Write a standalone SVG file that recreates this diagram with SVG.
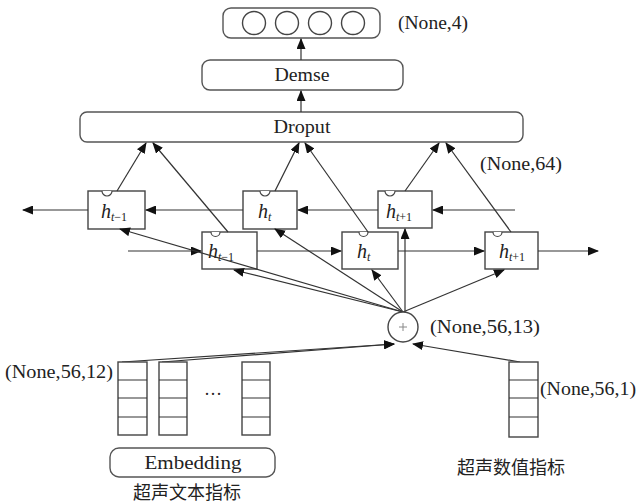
<svg xmlns="http://www.w3.org/2000/svg" width="639" height="503" viewBox="0 0 639 503">
<style>
.box{fill:#fff;stroke:#444;stroke-width:1.4}
.rbox{fill:#fff;stroke:#555;stroke-width:1.4}
.ln{stroke:#333;stroke-width:1.2;fill:none}
.cup{fill:#fff;stroke:#444;stroke-width:1.2}
.t{font-family:"Liberation Serif",serif;font-size:18px;fill:#222}
.h{font-family:"Liberation Serif",serif;font-size:20px;font-style:italic;fill:#222}
.sub{font-size:12px}
.cjk{font-family:"Noto Sans CJK SC",sans-serif;font-size:18px;fill:#222}
</style>
<defs>
<marker id="arr" markerUnits="userSpaceOnUse" markerWidth="11" markerHeight="9" refX="10" refY="4.5" orient="auto">
<path d="M0,0 L11,4.5 L0,9 z" fill="#111"/>
</marker>
</defs>
<rect width="639" height="503" fill="#fff"/>

<g id="output">
<rect class="rbox" x="223" y="8" width="157" height="30" rx="8"/>
<circle class="box" cx="254" cy="23" r="11.5"/>
<circle class="box" cx="287" cy="23" r="11.5"/>
<circle class="box" cx="320" cy="23" r="11.5"/>
<circle class="box" cx="353" cy="23" r="11.5"/>
<text class="t" x="398" y="29" textLength="70" lengthAdjust="spacingAndGlyphs">(None,4)</text>
</g>

<g id="dense">
<rect class="rbox" x="202" y="60" width="201" height="30" rx="8"/>
<text class="t" x="302" y="81" text-anchor="middle" textLength="55" lengthAdjust="spacingAndGlyphs">Demse</text>
</g>

<g id="dropout">
<rect class="rbox" x="80" y="112" width="443" height="30" rx="7"/>
<text class="t" x="302" y="133" text-anchor="middle" textLength="57" lengthAdjust="spacingAndGlyphs">Droput</text>
<text class="t" x="480" y="170" textLength="82" lengthAdjust="spacingAndGlyphs">(None,64)</text>
</g>

<g id="bw-ht-1">
<rect class="box" x="88" y="191" width="57" height="38"/>
<path class="cup" d="M102,191 A5,5 0 0 0 112,191"/>
<text class="h" x="101" y="218">h<tspan class="sub" dy="3">t</tspan><tspan class="sub" font-style="normal">−1</tspan></text>
</g>
<g id="bw-ht">
<rect class="box" x="243" y="191" width="54" height="38"/>
<path class="cup" d="M260,191 A5,5 0 0 0 270,191"/>
<text class="h" x="258" y="218">h<tspan class="sub" dy="3">t</tspan></text>
</g>
<g id="bw-ht+1">
<rect class="box" x="378" y="191" width="54" height="37"/>
<path class="cup" d="M385,191 A5,5 0 0 0 395,191"/>
<text class="h" x="386" y="218">h<tspan class="sub" dy="3">t</tspan><tspan class="sub" font-style="normal">+1</tspan></text>
</g>
<g id="fw-ht-1">
<rect class="box" x="202" y="232" width="55" height="37"/>
<path class="cup" d="M211,232 A4.5,4.5 0 0 0 220,232"/>
<text class="h" x="208" y="258">h<tspan class="sub" dy="3">t</tspan><tspan class="sub" font-style="normal">−1</tspan></text>
</g>
<g id="fw-ht">
<rect class="box" x="342" y="232" width="56" height="37"/>
<path class="cup" d="M359,232 A4.5,4.5 0 0 0 368,232"/>
<text class="h" x="357" y="258">h<tspan class="sub" dy="3">t</tspan></text>
</g>
<g id="fw-ht+1">
<rect class="box" x="485" y="232" width="53" height="37"/>
<path class="cup" d="M493,232 A4.5,4.5 0 0 0 502,232"/>
<text class="h" x="499" y="258">h<tspan class="sub" dy="3">t</tspan><tspan class="sub" font-style="normal">+1</tspan></text>
</g>

<g id="connectors">
<line class="ln" x1="301" y1="60" x2="301" y2="39" marker-end="url(#arr)"/>
<line class="ln" x1="301" y1="112" x2="301" y2="91" marker-end="url(#arr)"/>
<line class="ln" x1="117" y1="191" x2="146" y2="143" marker-end="url(#arr)"/>
<line class="ln" x1="228" y1="232" x2="153" y2="143" marker-end="url(#arr)"/>
<line class="ln" x1="275" y1="191" x2="299" y2="143" marker-end="url(#arr)"/>
<line class="ln" x1="368" y1="232" x2="305" y2="143" marker-end="url(#arr)"/>
<line class="ln" x1="405" y1="191" x2="439" y2="143" marker-end="url(#arr)"/>
<line class="ln" x1="511" y1="232" x2="446" y2="143" marker-end="url(#arr)"/>
<line class="ln" x1="88" y1="210" x2="23" y2="210" marker-end="url(#arr)"/>
<line class="ln" x1="243" y1="210" x2="146" y2="210" marker-end="url(#arr)"/>
<line class="ln" x1="378" y1="210" x2="298" y2="210" marker-end="url(#arr)"/>
<line class="ln" x1="515" y1="210" x2="433" y2="210" marker-end="url(#arr)"/>
<line class="ln" x1="128" y1="251" x2="201" y2="251" marker-end="url(#arr)"/>
<line class="ln" x1="257" y1="251" x2="341" y2="251" marker-end="url(#arr)"/>
<line class="ln" x1="398" y1="251" x2="484" y2="251" marker-end="url(#arr)"/>
<line class="ln" x1="538" y1="251" x2="598" y2="251" marker-end="url(#arr)"/>
<line class="ln" x1="403" y1="312" x2="120" y2="229" marker-end="url(#arr)"/>
<line class="ln" x1="403" y1="312" x2="234" y2="270" marker-end="url(#arr)"/>
<line class="ln" x1="403" y1="312" x2="275" y2="229" marker-end="url(#arr)"/>
<line class="ln" x1="403" y1="312" x2="372" y2="270" marker-end="url(#arr)"/>
<line class="ln" x1="405" y1="312" x2="405" y2="229" marker-end="url(#arr)"/>
<line class="ln" x1="403" y1="312" x2="504" y2="270" marker-end="url(#arr)"/>
<line class="ln" x1="122" y1="362" x2="394" y2="344" marker-end="url(#arr)"/>
<line class="ln" x1="162" y1="362" x2="394" y2="344" marker-end="url(#arr)"/>
<line class="ln" x1="520" y1="362" x2="413" y2="344" marker-end="url(#arr)"/>
</g>

<g id="concat">
<circle class="box" cx="403" cy="327" r="15"/>
<path d="M399,327 H407 M403,323 V331" stroke="#888" stroke-width="1"/>
<text class="t" x="430" y="333" textLength="110" lengthAdjust="spacingAndGlyphs">(None,56,13)</text>
</g>

<g id="text-input">
<text class="t" x="5" y="378" textLength="108" lengthAdjust="spacingAndGlyphs">(None,56,12)</text>
<rect class="box" x="118" y="362" width="29" height="73"/>
<path class="ln" d="M118,380 H147 M118,398 H147 M118,417 H147"/>
<rect class="box" x="159" y="362" width="28" height="73"/>
<path class="ln" d="M159,380 H187 M159,398 H187 M159,417 H187"/>
<rect class="box" x="242" y="362" width="28" height="73"/>
<path class="ln" d="M242,380 H270 M242,398 H270 M242,417 H270"/>
<text class="t" x="213" y="400" text-anchor="middle" font-size="14">···</text>
<rect class="rbox" x="110" y="448" width="165" height="29" rx="9"/>
<text class="t" x="193" y="469" text-anchor="middle" textLength="97" lengthAdjust="spacingAndGlyphs">Embedding</text>
<text class="cjk" x="187" y="499" text-anchor="middle">超声文本指标</text>
</g>

<g id="numeric-input">
<rect class="box" x="509" y="362" width="29" height="75"/>
<path class="ln" d="M509,380 H538 M509,398 H538 M509,417 H538"/>
<text class="t" x="540" y="395" textLength="96" lengthAdjust="spacingAndGlyphs">(None,56,1)</text>
<text class="cjk" x="511" y="474" text-anchor="middle">超声数值指标</text>
</g>
</svg>
